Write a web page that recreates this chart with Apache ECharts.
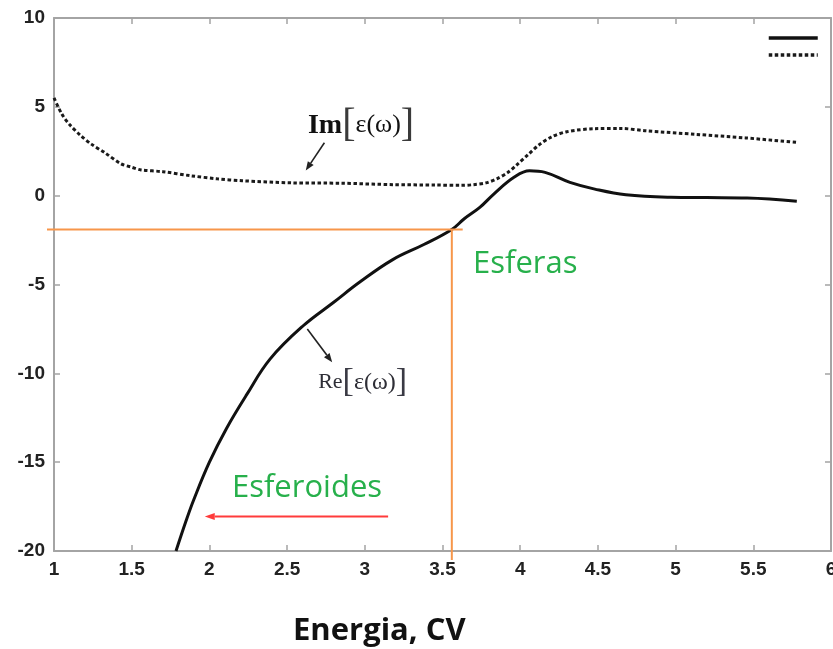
<!DOCTYPE html>
<html>
<head>
<meta charset="utf-8">
<script src="https://cdn.jsdelivr.net/npm/echarts@6/dist/echarts.min.js"></script>
<style>
  html, body { margin: 0; padding: 0; background: #ffffff; }
  #chart { width: 833px; height: 649px; }
</style>
</head>
<body>
<div id="chart"></div>
<script>
// Real part of the dielectric function, Re[ε(ω)], against photon energy
const reEnergy = [1.785, 1.85, 1.9, 2.0, 2.11, 2.24, 2.39, 2.6, 2.8, 2.97, 3.18, 3.38, 3.56, 3.64, 3.74, 3.83, 3.96, 4.06, 4.16, 4.32, 4.48, 4.68, 4.97, 5.2, 5.46, 5.78];
const reValues = [-20, -18.3, -17.1, -15.0, -13.1, -11.2, -9.2, -7.35, -6.0, -4.85, -3.6, -2.75, -1.9, -1.3, -0.66, 0.09, 1.03, 1.4, 1.31, 0.75, 0.37, 0.05, -0.09, -0.11, -0.13, -0.32];

// Imaginary part, Im[ε(ω)]
const imEnergy = [1.0, 1.05, 1.1, 1.17, 1.24, 1.33, 1.43, 1.5, 1.56, 1.7, 1.88, 2.05, 2.21, 2.53, 2.85, 3.18, 3.45, 3.62, 3.7, 3.78, 3.85, 3.92, 3.98, 4.05, 4.12, 4.2, 4.3, 4.48, 4.65, 4.81, 5.13, 5.45, 5.78];
const imValues = [5.5, 4.6, 4.0, 3.4, 2.9, 2.4, 1.8, 1.6, 1.45, 1.35, 1.12, 0.95, 0.84, 0.72, 0.7, 0.62, 0.6, 0.58, 0.62, 0.72, 0.95, 1.3, 1.75, 2.3, 2.85, 3.3, 3.6, 3.77, 3.78, 3.65, 3.45, 3.25, 3.0];

// Axis ranges and tick steps
const xRange = [1, 6];
const xStep = 0.5;
const yRange = [-20, 10];
const yStep = 5;

// Guide lines: the crossing of Re[ε] with the level ε = -1.9 at 3.56 eV
const guideLevel = -1.9;
const guideEnergy = 3.56;
const guideSpanX = [0.955, 3.63];
const guideBottom = -20.5;

// Annotation anchors, in axis units
const imLabelAt = [2.634, 3.94];
const imArrow = [[2.74, 2.98], [2.62, 1.41]];
const reLabelAt = [2.70, -10.52];
const reArrow = [[2.63, -7.5], [2.79, -9.38]];
const spheresAt = [3.696, -3.83];
const spheroidsAt = [2.145, -16.49];
const spheroidsArrow = [[3.15, -18.06], [1.97, -18.06]];

const seriesNames = ['Re[ε(ω)]', 'Im[ε(ω)]'];

const chart = echarts.init(document.getElementById('chart'), null, { renderer: 'canvas' });
const pairs = (xs, ys) => xs.map((x, i) => [x, ys[i]]);

const axisGrey = '#a4a4a4';
const tickFont = { fontFamily: 'Liberation Sans', fontWeight: 'bold', fontSize: 19, color: '#222222' };

function valueAxis(range, step, position, showLabels) {
  return {
    type: 'value',
    position: position,
    min: range[0],
    max: range[1],
    interval: step,
    axisLine: { show: true, onZero: false, lineStyle: { color: axisGrey, width: 2 } },
    axisTick: { show: true, inside: true, length: 6, lineStyle: { color: axisGrey, width: 1.5 } },
    axisLabel: showLabels ? Object.assign({ margin: 9 }, tickFont) : { show: false },
    splitLine: { show: false }
  };
}

chart.setOption({
  animation: false,
  backgroundColor: '#ffffff',
  grid: { left: 54, right: 2, top: 18, bottom: 98, containLabel: false, outerBoundsMode: 'none' },
  legend: {
    orient: 'vertical',
    left: 762,
    top: 28,
    itemWidth: 49,
    itemHeight: 10,
    itemGap: 8,
    selectedMode: false,
    formatter: () => '',
    itemStyle: { opacity: 0 },
    lineStyle: { width: 3.5 },
    data: seriesNames
  },
  xAxis: [
    valueAxis(xRange, xStep, 'bottom', true),
    valueAxis(xRange, xStep, 'top', false)
  ],
  yAxis: [
    valueAxis(yRange, yStep, 'left', true),
    valueAxis(yRange, yStep, 'right', false)
  ],
  series: [
    {
      name: seriesNames[0],
      type: 'line',
      xAxisIndex: 0,
      yAxisIndex: 0,
      data: pairs(reEnergy, reValues),
      smooth: 0.4,
      showSymbol: false,
      symbol: 'none',
      lineStyle: { color: '#111111', width: 3 },
      itemStyle: { color: '#111111' },
      z: 3
    },
    {
      name: seriesNames[1],
      type: 'line',
      xAxisIndex: 0,
      yAxisIndex: 0,
      data: pairs(imEnergy, imValues),
      smooth: 0.3,
      showSymbol: false,
      symbol: 'none',
      lineStyle: { color: '#1a1a1a', width: 3, type: [3.5, 2.5] },
      itemStyle: { color: '#1a1a1a' },
      z: 3
    }
  ]
});

// Overlay annotations placed from axis coordinates
const toPx = p => chart.convertToPixel({ gridIndex: 0 }, p);

function arrow(from, to, color, width, headLen, headHalf) {
  const a = toPx(from), b = toPx(to);
  const dx = b[0] - a[0], dy = b[1] - a[1];
  const len = Math.hypot(dx, dy);
  const ux = dx / len, uy = dy / len;
  const bx = b[0] - ux * headLen, by = b[1] - uy * headLen;
  return [
    { type: 'line', z: 20, shape: { x1: a[0], y1: a[1], x2: bx, y2: by }, style: { stroke: color, lineWidth: width } },
    { type: 'polygon', z: 20, shape: { points: [[b[0], b[1]], [bx - uy * headHalf, by + ux * headHalf], [bx + uy * headHalf, by - ux * headHalf]] }, style: { fill: color } }
  ];
}

function segment(from, to, color, width) {
  const a = toPx(from), b = toPx(to);
  return { type: 'line', z: 15, shape: { x1: a[0], y1: a[1], x2: b[0], y2: b[1] }, style: { stroke: color, lineWidth: width } };
}

function label(at, text, style) {
  const p = toPx(at);
  return { type: 'text', z: 25, x: p[0], y: p[1], style: Object.assign({ text: text, verticalAlign: 'middle', align: 'left' }, style) };
}

const orange = '#f7964a';
const green = '#27b04b';
const serif = 'Liberation Serif';

const graphics = [
  segment([guideSpanX[0], guideLevel], [guideSpanX[1], guideLevel], orange, 2),
  segment([guideEnergy, guideLevel], [guideEnergy, guideBottom], orange, 2),
  ...arrow(imArrow[0], imArrow[1], '#222222', 1.6, 9, 3.5),
  ...arrow(reArrow[0], reArrow[1], '#222222', 1.6, 9, 3.5),
  ...arrow(spheroidsArrow[0], spheroidsArrow[1], '#ff3b3b', 2, 10, 3.5),
  label(imLabelAt, '{b|Im}{k|[}{e|ε(ω)}{k|]}', {
    rich: {
      b: { fontFamily: serif, fontWeight: 'bold', fontSize: 28, fill: '#111111' },
      k: { fontFamily: serif, fontSize: 40, fill: '#3a3a3a' },
      e: { fontFamily: serif, fontSize: 26, fill: '#111111' }
    }
  }),
  label(reLabelAt, '{r|Re}{k|[}{e|ε(ω)}{k|]}', {
    rich: {
      r: { fontFamily: serif, fontSize: 22, fill: '#2e2e36' },
      k: { fontFamily: serif, fontSize: 34, fill: '#3a3a44' },
      e: { fontFamily: serif, fontSize: 24, fill: '#2e2e36' }
    }
  }),
  label(spheresAt, 'Esferas', { fontFamily: 'Open Sans', fontSize: 31, fill: green }),
  label(spheroidsAt, 'Esferoides', { fontFamily: 'Open Sans', fontSize: 31, fill: green }),
  { type: 'text', z: 25, x: 293, y: 631, style: { text: 'Energia, CV', fontFamily: 'Open Sans', fontWeight: 'bold', fontSize: 31, fill: '#111111', verticalAlign: 'middle', align: 'left' } }
];

chart.setOption({ graphic: graphics });
</script>
</body>
</html>
